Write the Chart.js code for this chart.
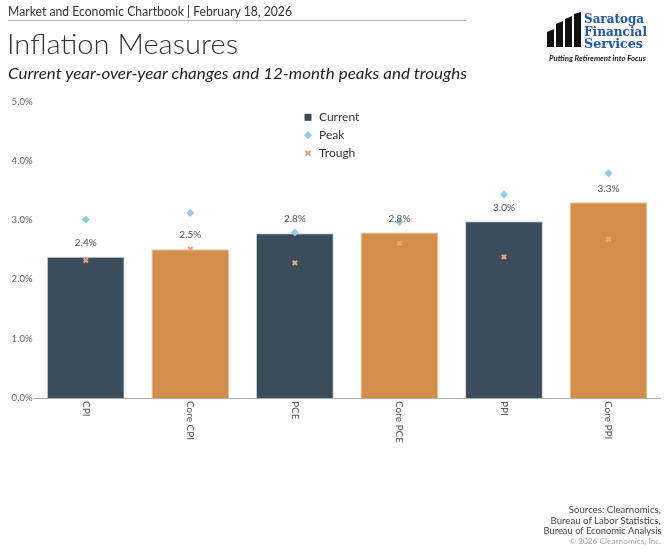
<!DOCTYPE html>
<html>
<head>
<meta charset="utf-8">
<script src="https://cdn.jsdelivr.net/npm/chart.js@4.4.1/dist/chart.umd.min.js"></script>
<style>
  html, body { margin:0; padding:0; background:#fff; }
  body { width:667px; height:560px; position:relative; overflow:hidden; font-family: Lato, "Open Sans", sans-serif; }
  #c { position:absolute; left:0; top:0; }
  .t { position:absolute; white-space:nowrap; transform-origin:left center; }
  .r { transform-origin:right center; text-align:right; }
</style>
</head>
<body>
<canvas id="c" width="667" height="560"></canvas>

<div class="t" id="hdr" style="left:8px; top:4px; font-size:12.5px; line-height:16px; color:#333;">Market and Economic Chartbook | February 18, 2026</div>
<div style="position:absolute; left:8px; top:20px; width:458px; height:1px; background:#b5b5b5;"></div>
<div class="t" id="ttl" style="left:7px; top:28px; font-size:27px; line-height:32px; color:#333; font-weight:300;">Inflation Measures</div>
<div class="t" id="sub" style="left:8px; top:63px; font-size:16px; line-height:20px; color:#222; font-style:italic;">Current year-over-year changes and 12-month peaks and troughs</div>

<svg style="position:absolute; left:546px; top:12px;" width="38" height="36" viewBox="0 0 38 36">
  <polygon points="1,20 8,17 8,35 1,35" fill="#111"/>
  <polygon points="10,12 17,9 17,35 10,35" fill="#111"/>
  <polygon points="19,7 26,4 26,35 19,35" fill="#111"/>
  <polygon points="28,2 35,0 35,35 28,35" fill="#111"/>
</svg>
<div class="t" id="lg1" style="left:584px; top:12px; font-size:13px; line-height:14px; color:#2356a6; font-weight:bold; font-family:'DejaVu Serif', serif;">Saratoga</div>
<div class="t" id="lg2" style="left:584px; top:24.5px; font-size:13px; line-height:14px; color:#2356a6; font-weight:bold; font-family:'DejaVu Serif', serif;">Financial</div>
<div class="t" id="lg3" style="left:584px; top:37px; font-size:13px; line-height:14px; color:#2356a6; font-weight:bold; font-family:'DejaVu Serif', serif;">Services</div>
<div class="t" id="lg4" style="left:549px; top:54px; font-size:7px; line-height:8px; color:#222; font-weight:bold; font-style:italic;">Putting Retirement into Focus</div>

<div class="t r" id="s1" style="right:6px; top:504px; font-size:9.5px; line-height:12px; color:#444;">Sources: Clearnomics,</div>
<div class="t r" id="s2" style="right:6px; top:515px; font-size:9.5px; line-height:12px; color:#444;">Bureau of Labor Statistics,</div>
<div class="t r" id="s3" style="right:6px; top:525px; font-size:9.5px; line-height:12px; color:#444;">Bureau of Economic Analysis</div>
<div class="t r" id="s4" style="right:6px; top:537px; font-size:7.5px; line-height:10px; color:#aaa;">© 2026 Clearnomics, Inc.</div>

<script>
const categories = ["CPI", "Core CPI", "PCE", "Core PCE", "PPI", "Core PPI"];
const currentValues = [2.38, 2.51, 2.78, 2.79, 2.98, 3.30];
const peakValues = [3.01, 3.12, 2.79, 2.97, 3.43, 3.79];
const troughValues = [2.32, 2.51, 2.28, 2.61, 2.38, 2.68];
const yTickValues = [0, 1, 2, 3, 4, 5];

const DARK = '#3b4c5b', ORANGE = '#d48e4b', PEAK = '#93cbe3', TROUGH = '#ee9f80';
const barColors = categories.map((_, i) => i % 2 === 0 ? DARK : ORANGE);
const barBorders = categories.map((_, i) => i % 2 === 0 ? '#c5ced6' : '#ecc49a');

function fitText(id, w) {
  const el = document.getElementById(id);
  const r = el.getBoundingClientRect().width;
  el.style.transform = 'scaleX(' + (w / r) + ')';
}

const overlay = {
  id: 'overlay',
  afterDatasetsDraw(chart) {
    const ctx = chart.ctx;
    const xs = chart.scales.x;
    const meta = chart.getDatasetMeta(0);
    ctx.save();
    ctx.font = '10px Lato, "Open Sans", sans-serif';
    ctx.fillStyle = '#555';
    ctx.textAlign = 'center';
    ctx.textBaseline = 'middle';
    meta.data.forEach((el, i) => {
      ctx.fillText(currentValues[i].toFixed(1) + '%', el.x, el.y - 14);
    });
    ctx.restore();
    ctx.save();
    ctx.font = '10px Lato, "Open Sans", sans-serif';
    ctx.fillStyle = '#555';
    categories.forEach((c, i) => {
      const x = xs.getPixelForValue(i);
      ctx.save();
      ctx.translate(x, 401);
      ctx.rotate(Math.PI / 2);
      ctx.textAlign = 'left';
      ctx.textBaseline = 'middle';
      ctx.fillText(c, 0, 0);
      ctx.restore();
    });
    ctx.restore();
    ctx.save();
    ctx.font = '12px Lato, "Open Sans", sans-serif';
    ctx.textAlign = 'left';
    ctx.textBaseline = 'middle';
    const lx = 308;
    ctx.fillStyle = DARK;
    ctx.fillRect(lx - 3.5, 117.3 - 3.5, 7, 7);
    ctx.fillStyle = PEAK;
    ctx.beginPath();
    ctx.moveTo(lx, 135.3 - 4); ctx.lineTo(lx + 4, 135.3); ctx.lineTo(lx, 135.3 + 4); ctx.lineTo(lx - 4, 135.3); ctx.closePath();
    ctx.fill();
    ctx.strokeStyle = TROUGH; ctx.lineWidth = 2;
    ctx.beginPath();
    ctx.moveTo(lx - 2.5, 153.3 - 2.5); ctx.lineTo(lx + 2.5, 153.3 + 2.5);
    ctx.moveTo(lx + 2.5, 153.3 - 2.5); ctx.lineTo(lx - 2.5, 153.3 + 2.5);
    ctx.stroke();
    ctx.fillStyle = '#333';
    ctx.fillText('Current', 319, 117.3);
    ctx.fillText('Peak', 319, 135.3);
    ctx.fillText('Trough', 319, 153.3);
    ctx.restore();
  }
};

new Chart(document.getElementById('c'), {
  data: {
    labels: categories,
    datasets: [
      {
        type: 'bar', label: 'Current', data: currentValues,
        backgroundColor: barColors, borderColor: barBorders, borderWidth: 1,
        categoryPercentage: 1.0, barPercentage: 0.744, order: 3
      },
      {
        type: 'line', label: 'Peak', data: peakValues, showLine: false,
        pointStyle: 'rectRot', pointRadius: 4, pointBackgroundColor: PEAK,
        pointBorderColor: PEAK, pointBorderWidth: 0, order: 1
      },
      {
        type: 'line', label: 'Trough', data: troughValues, showLine: false,
        pointStyle: 'crossRot', pointRadius: 3, pointBorderColor: TROUGH,
        pointBackgroundColor: TROUGH, pointBorderWidth: 2.2, order: 2
      }
    ]
  },
  options: {
    responsive: false,
    animation: false,
    devicePixelRatio: 1,
    layout: { padding: { top: 101.5, left: 0, right: 3, bottom: 0 } },
    plugins: { legend: { display: false }, tooltip: { enabled: false } },
    scales: {
      x: {
        offset: true,
        grid: { display: false, drawTicks: false },
        border: { display: true, color: '#b0b0b0', width: 1 },
        ticks: { display: false },
        afterFit(s) { s.height = 162; }
      },
      y: {
        min: 0, max: 5,
        afterBuildTicks(s) { s.ticks = yTickValues.map(v => ({ value: v })); },
        grid: { display: false, drawTicks: false },
        border: { display: false },
        ticks: {
          padding: 1,
          color: '#666',
          font: { size: 9.5, family: 'Lato, "Open Sans", sans-serif' },
          callback: v => Number(v).toFixed(1) + '%'
        },
        afterFit(s) { s.width = 33.5; }
      }
    }
  },
  plugins: [overlay]
});

fitText('hdr', 284);
fitText('ttl', 231);
fitText('sub', 459);
fitText('lg1', 60);
fitText('lg2', 63);
fitText('lg3', 59);
fitText('lg4', 97);
fitText('s1', 92);
fitText('s2', 110);
fitText('s3', 118);
fitText('s4', 92);
</script>
</body>
</html>
